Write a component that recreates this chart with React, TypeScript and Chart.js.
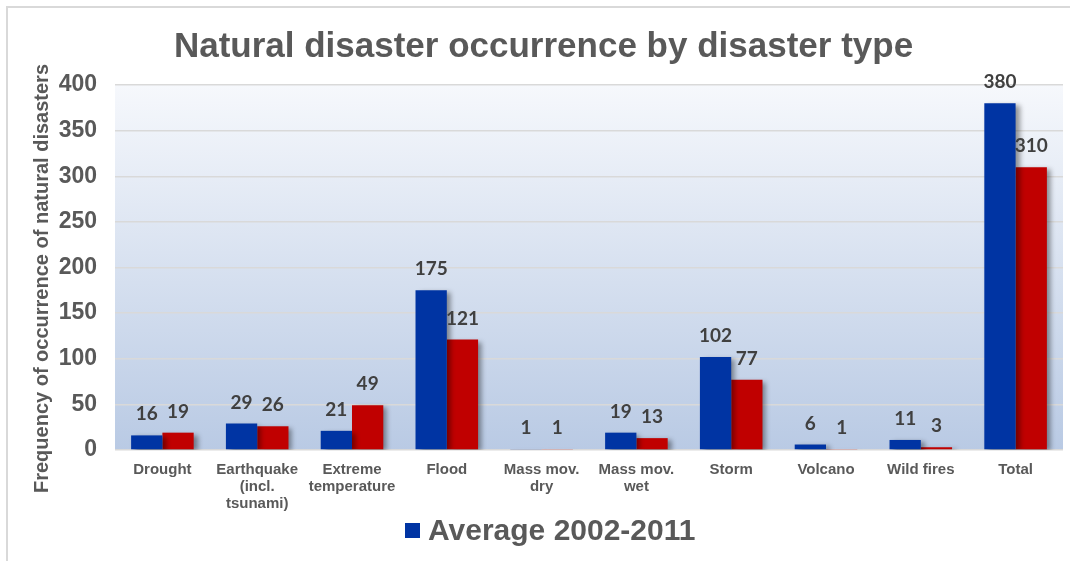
import React, { useEffect, useRef } from "react";
import { Chart, registerables } from "chart.js";

Chart.register(...registerables);

// Disaster categories (multi-line axis labels)
const categories: string[][] = [
  ["Drought"],
  ["Earthquake", "(incl.", "tsunami)"],
  ["Extreme", "temperature"],
  ["Flood"],
  ["Mass mov.", "dry"],
  ["Mass mov.", "wet"],
  ["Storm"],
  ["Volcano"],
  ["Wild fires"],
  ["Total"],
];

// Average yearly occurrences, 2002-2011
const average20022011 = [16, 29, 21, 175, 1, 19, 102, 6, 11, 380];
// Occurrences in 2012
const year2012 = [19, 26, 49, 121, 1, 13, 77, 1, 3, 310];

const yMin = 0;
const yMax = 400;
const yStep = 50;

const TITLE = "Natural disaster occurrence by disaster type";
const Y_TITLE = "Frequency of occurrence of natural disasters";
const LEGEND_LABEL = "Average 2002-2011";

const FONT = "'Liberation Sans', Arial, sans-serif";
const TEXT_GRAY = "#595959";
const LABEL_GRAY = "#404040";
const BLUE = "#0034a3";
const RED = "#c00000";

// Soft blue gradient behind the plot area
const plotBackground = {
  id: "plotBackground",
  beforeDraw(chart: any) {
    const { ctx, chartArea } = chart;
    if (!chartArea) return;
    const g = ctx.createLinearGradient(0, chartArea.top, 0, chartArea.bottom);
    g.addColorStop(0, "#f6f8fc");
    g.addColorStop(1, "#b9cae4");
    ctx.save();
    ctx.fillStyle = g;
    ctx.fillRect(chartArea.left, chartArea.top, chartArea.right - chartArea.left, chartArea.bottom - chartArea.top);
    ctx.restore();
  },
};

// Drop shadow under the bars
const barShadow = {
  id: "barShadow",
  beforeDatasetsDraw(chart: any) {
    const ctx = chart.ctx;
    ctx.save();
    ctx.shadowColor = "rgba(0,0,0,0.4)";
    ctx.shadowBlur = 5;
    ctx.shadowOffsetX = 4;
    ctx.shadowOffsetY = 2;
  },
  afterDatasetsDraw(chart: any) {
    chart.ctx.restore();
  },
};

// Value labels above each bar
const valueLabels = {
  id: "valueLabels",
  afterDatasetsDraw(chart: any) {
    const ctx = chart.ctx;
    ctx.save();
    ctx.font = "bold 19px Lato";
    ctx.fillStyle = LABEL_GRAY;
    ctx.textAlign = "center";
    ctx.textBaseline = "alphabetic";
    chart.data.datasets.forEach((ds: any, di: number) => {
      const meta = chart.getDatasetMeta(di);
      meta.data.forEach((bar: any, i: number) => {
        ctx.fillText(String(ds.data[i]), bar.x, bar.y - 15);
      });
    });
    ctx.restore();
  },
};

// Vertical axis title, centred a little below the plot's midpoint
const yAxisTitle = {
  id: "yAxisTitle",
  afterDraw(chart: any) {
    const { ctx, chartArea } = chart;
    ctx.save();
    ctx.translate(42, (chartArea.top + chartArea.bottom) / 2 + 11);
    ctx.rotate(-Math.PI / 2);
    ctx.font = `bold 20px ${FONT}`;
    ctx.fillStyle = TEXT_GRAY;
    ctx.textAlign = "center";
    ctx.textBaseline = "middle";
    ctx.fillText(Y_TITLE, 0, 0);
    ctx.restore();
  },
};

export default function App() {
  const canvasRef = useRef<HTMLCanvasElement | null>(null);

  useEffect(() => {
    if (!canvasRef.current) return;
    const chart = new Chart(canvasRef.current, {
      type: "bar",
      data: {
        labels: categories,
        datasets: [
          {
            label: LEGEND_LABEL,
            data: average20022011,
            backgroundColor: BLUE,
            categoryPercentage: 0.66,
            barPercentage: 1.0,
          },
          {
            label: "2012",
            data: year2012,
            backgroundColor: RED,
            categoryPercentage: 0.66,
            barPercentage: 1.0,
          },
        ],
      },
      options: {
        responsive: true,
        maintainAspectRatio: false,
        animation: false,
        layout: { padding: { left: 24, right: 7, top: 10, bottom: 45 } },
        plugins: {
          title: {
            display: true,
            text: TITLE,
            color: TEXT_GRAY,
            font: { family: FONT, size: 35, weight: "bold" },
            padding: { top: 16, bottom: 17 },
          },
          legend: { display: false },
          tooltip: { enabled: false },
        },
        scales: {
          x: {
            afterFit(scale: any) {
              scale.height = 66;
            },
            grid: { display: false },
            border: { display: false },
            ticks: {
              color: TEXT_GRAY,
              font: { family: FONT, size: 15, weight: "bold", lineHeight: 1.13 },
              padding: 3,
              maxRotation: 0,
              autoSkip: false,
            },
          },
          y: {
            min: yMin,
            max: yMax,
            afterFit(scale: any) {
              scale.width = 91;
            },
            grid: { color: "#d9d9d9", lineWidth: 1.5, drawTicks: false },
            border: { display: false },
            ticks: {
              stepSize: yStep,
              color: TEXT_GRAY,
              font: { family: FONT, size: 23, weight: "bold" },
              padding: 18,
            },
          },
        },
      },
      plugins: [plotBackground, barShadow, valueLabels, yAxisTitle],
    });
    return () => chart.destroy();
  }, []);

  return (
    <div
      style={{
        position: "fixed",
        left: 0,
        top: 0,
        width: 1070,
        height: 561,
        background: "#ffffff",
        overflow: "hidden",
      }}
    >
      <div
        style={{
          position: "absolute",
          left: 6,
          top: 6,
          width: 1100,
          height: 600,
          border: "2px solid #d9d9d9",
        }}
      />
      <div style={{ position: "absolute", left: 0, top: 0, width: 1070, height: 561 }}>
        <canvas ref={canvasRef} />
      </div>
      <div
        style={{
          position: "absolute",
          left: 405,
          top: 511,
          height: 38,
          display: "flex",
          alignItems: "center",
          fontFamily: FONT,
          fontWeight: "bold",
          fontSize: 30,
          color: TEXT_GRAY,
          whiteSpace: "nowrap",
        }}
      >
        <span style={{ display: "inline-block", width: 15, height: 15, background: BLUE, marginRight: 8 }} />
        <span>{LEGEND_LABEL}</span>
      </div>
    </div>
  );
}
